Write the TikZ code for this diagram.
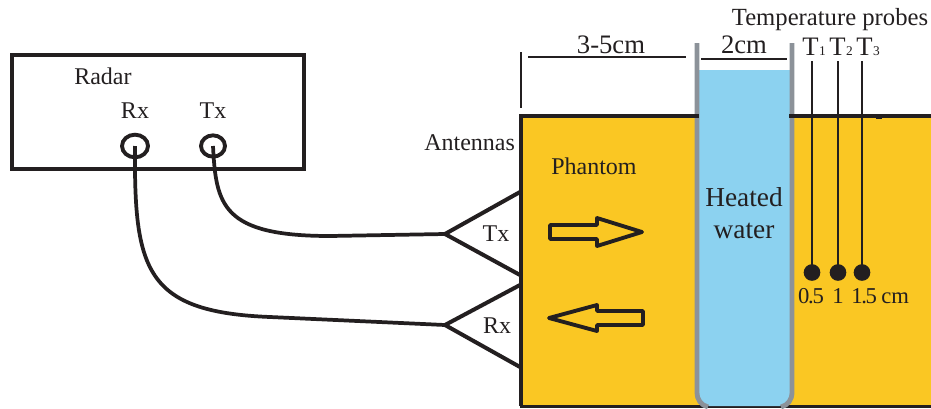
\documentclass[tikz,border=0pt]{standalone}
\usepackage{fontspec}
\setmainfont{Liberation Serif}
\usetikzlibrary{shapes.geometric}
\definecolor{phantom}{HTML}{FAC723}
\definecolor{water}{HTML}{8CD2F0}
\definecolor{wall}{HTML}{8C9299}
\definecolor{ink}{HTML}{231F20}
\tikzset{
  x=0.75pt,y=-0.75pt,
  thick line/.style={draw=ink,line width=3pt},
  med line/.style={draw=ink,line width=2.1pt},
  cable/.style={draw=ink,line width=2.8pt},
  lab/.style={text=ink,inner sep=0pt,font=\fontsize{18}{20}\selectfont},
  dimlab/.style={text=ink,inner sep=0pt,font=\fontsize{20}{22}\selectfont},
  numlab/.style={text=ink,inner sep=0pt,font=\fontsize{17}{19}\selectfont},
  port/.style={ellipse,draw=ink,line width=2.9pt,inner sep=0pt},
  dot/.style={circle,fill=ink,minimum size=12.5pt,inner sep=0pt},
  hollow/.style={draw=ink,line width=2.9pt,line join=round,fill=none},
}
\newcommand{\probesub}[1]{T\kern0.5pt{\fontsize{10}{10}\selectfont #1}}
\begin{document}
\begin{tikzpicture}
\useasboundingbox (0,0) rectangle (931,408);
% phantom
\fill[phantom] (520,115) rectangle (931,406);
\draw[thick line,line width=2.2pt] (520,406.5) -- (931,406.5);
% water
\fill[water] (698,70) -- (791,70) -- (791,392) .. controls (791,400) and (787,405) .. (780,406) -- (709,406) .. controls (702,405) and (698,400) .. (698,392) -- cycle;
% tube walls
\draw[draw=wall,line width=3.6pt] (697,43) -- (697,392) .. controls (697,400) and (701,405) .. (708,407);
\draw[draw=wall,line width=3.6pt] (792,43) -- (792,392) .. controls (792,400) and (788,405) .. (781,407);
% phantom outline
\draw[thick line] (521,406) -- (521,115.5) -- (699,115.5);
\draw[thick line] (789,115.5) -- (931,115.5);
\draw[med line] (876,117.5) -- (882,117.5);
% dimensions
\draw[med line] (521,52) -- (521,108);
\draw[med line] (528,57) -- (686,57);
\draw[med line] (701,59) -- (787,59);
\node[dimlab,anchor=base] (dimA) at (611,53) {3-5cm};
\node[dimlab,anchor=base] (dimB) at (744,53) {2cm};
% radar
\node[draw=ink,line width=3pt,minimum width=219pt,minimum height=85.5pt,inner sep=0pt,anchor=north west] (radar) at (10,53) {};
\node[lab,anchor=base west] (radarlab) at (74,84) {Radar};
\node[lab,anchor=base] (rxlab) at (135,118) {Rx};
\node[lab,anchor=base] (txlab) at (213,118) {Tx};
\node[port,minimum width=19.5pt,minimum height=17pt] (rxport) at (135,146) {};
\node[port,minimum width=18pt,minimum height=16pt] (txport) at (213,146) {};
% antennas
\coordinate (txapex) at (445,234);
\coordinate (rxapex) at (445,325);
\draw[thick line,line join=miter] (520,192) -- (txapex) -- (520,275);
\draw[thick line,line join=miter] (520,285) -- (rxapex) -- (520,367);
\node[lab,anchor=base] (txant) at (496,241) {Tx};
\node[lab,anchor=base] (rxant) at (497,333) {Rx};
\node[lab,anchor=base west] (antlab) at (424,150) {Antennas};
% cables
\draw[cable] (txport.center) .. controls (216,205) and (222,236) .. (330,236) -- (txapex);
\draw[cable] (rxport.center) .. controls (134,270) and (145,312) .. (270,317) -- (rxapex);
% arrows
\draw[hollow] (550,225) -- (597,225) -- (597,218) -- (642,232) -- (597,246) -- (597,239) -- (550,239) -- cycle;
\draw[hollow] (549,318) -- (597,305) -- (597,311) -- (643,311) -- (643,325) -- (597,325) -- (597,331) -- cycle;
\node[lab,anchor=base west] (phlab) at (551,174) {Phantom};
\node[lab,font=\fontsize{20.5}{24}\selectfont,align=center] (waterlab) at (744,213) {Heated\\water};
% probes
\node[lab,font=\fontsize{18.5}{20}\selectfont,anchor=base] (probelab) at (830,25) {Temperature probes};
\node[dot] (d1) at (812,272.5) {};
\node[dot] (d2) at (838,272.5) {};
\node[dot] (d3) at (862,272.5) {};
\coordinate (p1) at (812,61);
\coordinate (p2) at (838,61);
\coordinate (p3) at (862,61);
\draw[med line] (p1) -- (d1.center);
\draw[med line] (p2) -- (d2.center);
\draw[med line] (p3) -- (d3.center);
\node[dimlab,anchor=base west] (t1) at (802,55) {\probesub{1}};
\node[dimlab,anchor=base west] (t2) at (829,55) {\probesub{2}};
\node[dimlab,anchor=base west] (t3) at (856,55) {\probesub{3}};
\node[numlab,anchor=base] (v1) at (811,303) {0\kern-1pt.\kern-1pt5};
\node[numlab,anchor=base] (v2) at (838,303) {1};
\node[numlab,anchor=base west] (v3) at (851,303) {1\kern-1pt.\kern-1pt5\kern-1pt\ cm};
\end{tikzpicture}
\end{document}
